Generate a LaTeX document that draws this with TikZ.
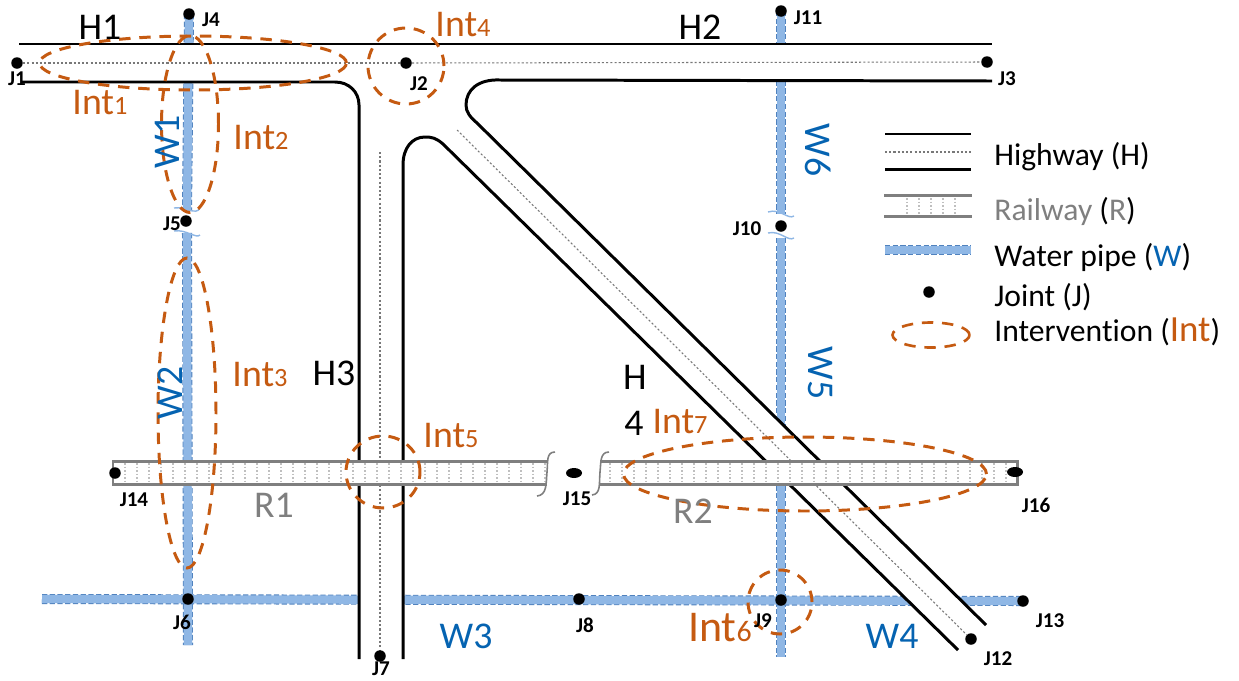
\documentclass[tikz,border=0pt]{standalone}
\usepackage{fontspec}
\setmainfont[Ligatures=NoCommon]{Carlito}
\usetikzlibrary{shapes.geometric,backgrounds}
\definecolor{intorange}{RGB}{197,90,17}
\definecolor{wblue}    {RGB}{5,99,177}
\definecolor{pipefill} {RGB}{143,183,229}
\definecolor{pipeedge} {RGB}{80,130,190}
\definecolor{railgray} {RGB}{127,127,127}
\definecolor{dotgray}  {RGB}{120,120,120}
\newcommand{\intlabel}[1]{Int{\fontsize{15}{15}\selectfont #1}}

\begin{document}
\begin{tikzpicture}[
    x=0.02cm,y=-0.02cm,
    joint/.style={circle,fill=black,inner sep=0pt,minimum size=0.23cm},
    jointwide/.style={ellipse,fill=black,inner sep=0pt,minimum width=0.32cm,minimum height=0.2cm},
    jlabel/.style={font=\fontsize{12}{12}\selectfont\bfseries,inner sep=0pt},
    road/.style={draw=black,line width=1.7pt},
    centreline/.style={draw=dotgray,line width=0.6pt,dash pattern=on 1.2pt off 1.2pt},
    pipe/.style={draw=pipeedge,line width=5.7pt,dash pattern=on 3pt off 1.4pt,
                 postaction={draw=pipefill,solid,line width=4.7pt}},
    pipebreak/.style={draw=pipefill,line width=0.8pt},
    railedge/.style={draw=railgray,line width=1.7pt},
    tie/.style={draw=railgray!50,line width=0.6pt,dash pattern=on 1pt off 1pt},
    railbreak/.style={draw=railgray,line width=0.9pt},
    interv/.style={ellipse,draw=intorange,line width=1.7pt,dash pattern=on 6.5pt off 5pt,inner sep=0pt},
    tag/.style={font=\fontsize{21.5}{22}\selectfont,inner sep=0pt},
    inttag/.style={tag,text=intorange},
    wtag/.style={tag,text=wblue},
    rtag/.style={tag,text=railgray},
    legend/.style={font=\fontsize{18}{19}\selectfont,inner sep=0pt,anchor=west}
  ]
    \useasboundingbox (0,0) rectangle (1239,680);

    % joints
    \coordinate (w3start) at (42,599);
    \coordinate (w1end) at (187,211);
    \coordinate (w2start) at (187,233);
    \coordinate (w2end) at (188,645);
    \coordinate (w6end) at (781,214);
    \coordinate (w5start) at (781,238);
    \coordinate (w5end) at (781,657);
    \coordinate (h3top) at (380,152);
    \coordinate (h4top) at (457,130);
    \node[joint] (J1) at (17,63) {};
    \node[joint] (J2) at (406,63) {};
    \node[joint] (J3) at (987,62) {};
    \node[joint] (J4) at (189,14) {};
    \node[joint] (J5) at (186,221) {};
    \node[joint] (J6) at (188,599) {};
    \node[joint] (J7) at (380,656) {};
    \node[joint] (J8) at (579,599) {};
    \node[joint] (J9) at (781,600) {};
    \node[joint] (J10) at (781,226) {};
    \node[joint] (J11) at (781,11) {};
    \node[joint] (J12) at (971,639) {};
    \node[joint] (J13) at (1023,601) {};
    \node[joint] (J14) at (115,473) {};
    \node[jointwide] (J15) at (574,473) {};
    \node[jointwide] (J16) at (1015,472) {};

    \begin{pgfonlayer}{background}
    % pipes
    \draw[pipe] (J4.center) -- (w1end);
    \draw[pipe] (w2start) -- (w2end);
    \draw[pipe] (J11.center) -- (w6end);
    \draw[pipe] (w5start) -- (w5end);
    \draw[pipe] (w3start) -- (J13.center);
    \draw[pipebreak] (174,208) .. controls (186,206) and (196,216) .. (200,208);
    \draw[pipebreak] (174,231) .. controls (186,229) and (196,239) .. (200,235);
    \draw[pipebreak] (768,212) .. controls (780,208) and (788,220) .. (794,216);
    \draw[pipebreak] (768,233) .. controls (780,230) and (788,242) .. (794,238);

    % roads
    \fill[white] (19,44) -- (992,44) -- (992,81) -- (500,80)
      .. controls (478,79) and (466,90) .. (466,105)
      .. controls (466,112) and (470,117) .. (477,123) -- (986,625) -- (958,650) -- (443,144)
      .. controls (436,138) and (432,137) .. (425,137)
      .. controls (412,137) and (403,148) .. (403,165) -- (403,659) -- (359,659) -- (359,105)
      .. controls (359,92) and (349,82) .. (335,82) -- (22,82) -- cycle;
    \draw[road] (19,44) -- (992,44);
    \draw[road] (22,82) -- (335,82) .. controls (349,82) and (359,92) .. (359,105) -- (359,659);
    \draw[road] (403,659) -- (403,165) .. controls (403,148) and (412,137) .. (425,137)
      .. controls (432,137) and (436,138) .. (443,144) -- (958,650);
    \draw[road] (992,81) -- (500,80) .. controls (478,79) and (466,90) .. (466,105)
      .. controls (466,112) and (470,117) .. (477,123) -- (986,625);
    \draw[centreline] (J1) -- (J2);
    \draw[centreline] (J2) -- (J3);
    \draw[centreline] (h3top) -- (J7);
    \draw[centreline] (h4top) -- (J12);

    % railway
    \fill[white] (113,461) rectangle (547,484);
    \fill[white] (600,461) rectangle (1017,484);
    \foreach \tx in {125,137,...,545} {\draw[tie] (\tx,463) -- (\tx,482);}
    \foreach \tx in {610,622,...,1010} {\draw[tie] (\tx,463) -- (\tx,482);}
    \draw[railedge] (547,461) -- (113,461) -- (113,484) -- (547,484);
    \draw[railedge] (600,461) -- (1017,461) -- (1017,484) -- (600,484);
    \draw[railbreak] (555,452) .. controls (546,452) and (548,462) .. (547,472)
      .. controls (546,484) and (547,495) .. (537,496);
    \draw[railbreak] (609,452) .. controls (600,452) and (601,462) .. (600,472)
      .. controls (599,484) and (601,494) .. (592,495);
    \end{pgfonlayer}

    % interventions
    \node[interv,minimum width=6.14cm,minimum height=1.08cm] (int1) at (193,63) {};
    \node[interv,minimum width=1.14cm,minimum height=3.54cm] (int2) at (190,124) {};
    \node[interv,minimum width=1.16cm,minimum height=6.2cm] (int3) at (187,413) {};
    \node[interv,minimum width=1.52cm,minimum height=1.52cm] (int4) at (406,66) {};
    \node[interv,minimum width=1.48cm,minimum height=1.44cm] (int5) at (383,472) {};
    \node[interv,minimum width=1.28cm,minimum height=1.28cm] (int6) at (780,602) {};
    \node[interv,minimum width=7.26cm,minimum height=1.48cm] (int7) at (805,474) {};

    % tags
    \node[tag] (H1) at (100,27) {H1};
    \node[tag] (H2) at (700,27) {H2};
    \node[tag] (H3) at (334,373) {H3};
    \node[tag] (H4a) at (635,377) {H};
    \node[tag] (H4b) at (634,423) {4};
    \node[wtag,rotate=90] (W1) at (167,142) {W1};
    \node[wtag,rotate=90] (W2) at (170,393) {W2};
    \node[wtag] (W3) at (466,636) {W3};
    \node[wtag] (W4) at (892,636) {W4};
    \node[wtag,rotate=-90] (W5) at (820,373) {W5};
    \node[wtag,rotate=-90] (W6) at (818,150) {W6};
    \node[rtag] (R1) at (274,505) {R1};
    \node[rtag] (R2) at (693,511) {R2};
    \node[inttag] (l1) at (100,103) {\intlabel{1}};
    \node[inttag] (l2) at (261,138) {\intlabel{2}};
    \node[inttag] (l3) at (260,375) {\intlabel{3}};
    \node[inttag] (l4) at (463,25) {\intlabel{4}};
    \node[inttag] (l5) at (451,436) {\intlabel{5}};
    \node[inttag,font=\fontsize{25}{26}\selectfont] (l6) at (720,628) {Int{\fontsize{17}{17}\selectfont 6}};
    \node[inttag] (l7) at (680,422) {\intlabel{7}};

    \node[jlabel] (t1) at (17,79) {J1};
    \node[jlabel] (t2) at (419,84) {J2};
    \node[jlabel] (t3) at (1007,79) {J3};
    \node[jlabel] (t4) at (211,20) {J4};
    \node[jlabel] (t5) at (172,224) {J5};
    \node[jlabel] (t6) at (182,622) {J6};
    \node[jlabel] (t7) at (381,669) {J7};
    \node[jlabel] (t8) at (585,625) {J8};
    \node[jlabel] (t9) at (763,621) {J9};
    \node[jlabel] (t10) at (747,229) {J10};
    \node[jlabel] (t11) at (808,18) {J11};
    \node[jlabel] (t12) at (998,659) {J12};
    \node[jlabel] (t13) at (1050,621) {J13};
    \node[jlabel] (t14) at (134,500) {J14};
    \node[jlabel] (t15) at (577,499) {J15};
    \node[jlabel] (t16) at (1036,505) {J16};

    % legend
    \draw[road] (885,134) -- (971,134);
    \draw[centreline] (885,152) -- (971,152);
    \draw[road] (885,169) -- (971,169);
    \foreach \tx in {907,919,931,943,955} {\draw[tie] (\tx,198) -- (\tx,214);}
    \draw[railedge] (884,195) -- (972,195);
    \draw[railedge] (884,216) -- (972,216);
    \draw[pipe] (885,250) -- (971,250);
    \node[joint] (legjoint) at (929,292) {};
    \node[interv,line width=1.5pt,minimum width=1.54cm,minimum height=0.5cm] (legint) at (931,335) {};
    \node[legend] (leg1) at (994,157) {Highway (H)};
    \node[legend] (leg2) at (994,211) {\textcolor{railgray}{Railway} (\textcolor{railgray}{R})};
    \node[legend] (leg3) at (994,257) {Water pipe (\textcolor{wblue}{W})};
    \node[legend] (leg4) at (994,297) {Joint (J)};
    \node[legend] (leg5) at (994,332) {Intervention ({\color{intorange}\fontsize{21}{21}\selectfont Int})};
  \end{tikzpicture}
\end{document}
